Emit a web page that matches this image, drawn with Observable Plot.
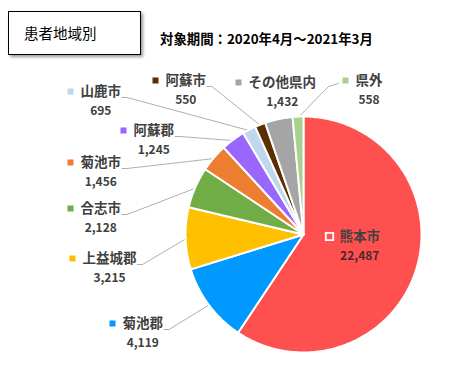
<!DOCTYPE html>
<html><head><meta charset="utf-8">
<script src="https://cdn.jsdelivr.net/npm/d3@7"></script>
<script src="https://cdn.jsdelivr.net/npm/@observablehq/plot@0.6"></script>
<style>
body{margin:0;background:#fff;font-family:"Noto Sans CJK JP",sans-serif;}
#wrap{position:relative;width:458px;height:369px;overflow:hidden;}
#wrap svg{position:absolute;left:0;top:0;}
#tbox{position:absolute;left:8px;top:11px;width:133px;height:44px;border:1px solid #000;box-shadow:2px 2px 3px #999;background:#fff;box-sizing:border-box;}
#tbox span{position:absolute;left:15px;top:12px;font-size:14.5px;line-height:18px;color:#000;}
#sub{position:absolute;left:160px;top:29px;font-size:13.4px;font-weight:bold;line-height:18px;color:#000;white-space:nowrap;}
</style></head>
<body><div id="wrap"><div id="tbox"><span>患者地域別</span></div><div id="sub">対象期間：2020年4月～2021年3月</div></div>
<script>
const categories = ["熊本市","菊池郡","上益城郡","合志市","菊池市","阿蘇郡","山鹿市","阿蘇市","その他県内","県外"];
const values = [22487,4119,3215,2128,1456,1245,695,550,1432,558];
const valueLabels = ["22,487","4,119","3,215","2,128","1,456","1,245","695","550","1,432","558"];
const colors = ["#FF5050","#0099FF","#FFC000","#70AD47","#ED7D31","#9966FF","#BDD7EE","#5C2E00","#A5A5A5","#A9D18E"];

// layout (label placement: name text left x, center y, leader side)
const labelLayout = {
  "熊本市":[339,236,null],
  "菊池郡":[122,323,"right"],
  "上益城郡":[82,258,"right"],
  "合志市":[80,208,"right"],
  "菊池市":[80,162,"right"],
  "阿蘇郡":[133,130,"right"],
  "山鹿市":[80,91,"right"],
  "阿蘇市":[165,80,"right"],
  "その他県内":[248,82,null],
  "県外":[355,80,"left"]
};
const cx = 303, cy = 234, R = 118;
const nameSize = 13.5, valSize = 12;
const font = '"Noto Sans CJK JP", sans-serif';

const data = categories.map((c,i)=>({name:c,value:values[i],label:valueLabels[i],color:colors[i]}));
const arcs = d3.pie().sort(null).value(d=>d.value).startAngle(0).endAngle(2*Math.PI)(data);
const pt = (a,r)=>[cx + r*Math.sin(a), cy - r*Math.cos(a)];

const slicePts = [];
for (const a of arcs) {
  slicePts.push({name:a.data.name, x:cx, y:cy});
  const n = Math.max(2, Math.ceil((a.endAngle-a.startAngle)/(Math.PI/180)));
  for (let k=0;k<=n;k++){
    const ang = a.startAngle + (a.endAngle-a.startAngle)*k/n;
    const [x,y] = pt(ang,R);
    slicePts.push({name:a.data.name,x,y});
  }
  slicePts.push({name:a.data.name, x:cx, y:cy});
}

const labels = arcs.map(a=>{
  const [lx,ly,side] = labelLayout[a.data.name];
  const w = a.data.name.length*nameSize;
  return {name:a.data.name, label:a.data.label, color:a.data.color, lx, ly, side, w, mid:(a.startAngle+a.endAngle)/2};
});
const leaderPts = [];
for (const l of labels) {
  if (!l.side) continue;
  const [ex,ey] = pt(l.mid, R-1);
  if (l.side==="right") {
    leaderPts.push({name:l.name,x:l.lx+l.w+1,y:l.ly+6});
    leaderPts.push({name:l.name,x:l.lx+l.w+6,y:l.ly+6});
  } else {
    leaderPts.push({name:l.name,x:l.lx-17,y:l.ly+3});
    leaderPts.push({name:l.name,x:l.lx-27,y:l.ly+6});
  }
  leaderPts.push({name:l.name,x:ex,y:ey});
}

const plot = Plot.plot({
  width:458, height:369, margin:0,
  x:{domain:[0,458], range:[0,458], axis:null},
  y:{domain:[0,369], range:[0,369], axis:null},
  color:{domain:categories, range:colors},
  style:{background:"transparent"},
  marks:[
    Plot.line(leaderPts,{x:"x",y:"y",z:"name",stroke:"#A6A6A6",strokeWidth:0.9}),
    Plot.line(slicePts,{x:"x",y:"y",z:"name",fill:"name",stroke:"white",strokeWidth:2,strokeLinejoin:"round",curve:"linear"}),
    Plot.dot(labels.filter(l=>l.name!=="熊本市"),{x:l=>l.lx-10,y:"ly",symbol:"square",r:3.4,fill:"name"}),
    Plot.dot(labels.filter(l=>l.name==="熊本市"),{x:l=>l.lx-10,y:"ly",symbol:"square",r:4.2,fill:"name",stroke:"white",strokeWidth:1.8}),
    Plot.text(labels,{x:"lx",y:"ly",text:"name",textAnchor:"start",lineAnchor:"middle",fontSize:nameSize,fontWeight:"bold",fill:"#404040",fontFamily:font}),
    Plot.text(labels,{x:l=>l.lx+l.w/2,y:l=>l.ly+20,text:"label",textAnchor:"middle",lineAnchor:"middle",fontSize:valSize,fontWeight:"bold",fill:l=>l.name==="熊本市"?"#4a2a2a":"#404040",fontFamily:font})
  ]
});
document.getElementById("wrap").prepend(plot);
</script>
</body></html>
